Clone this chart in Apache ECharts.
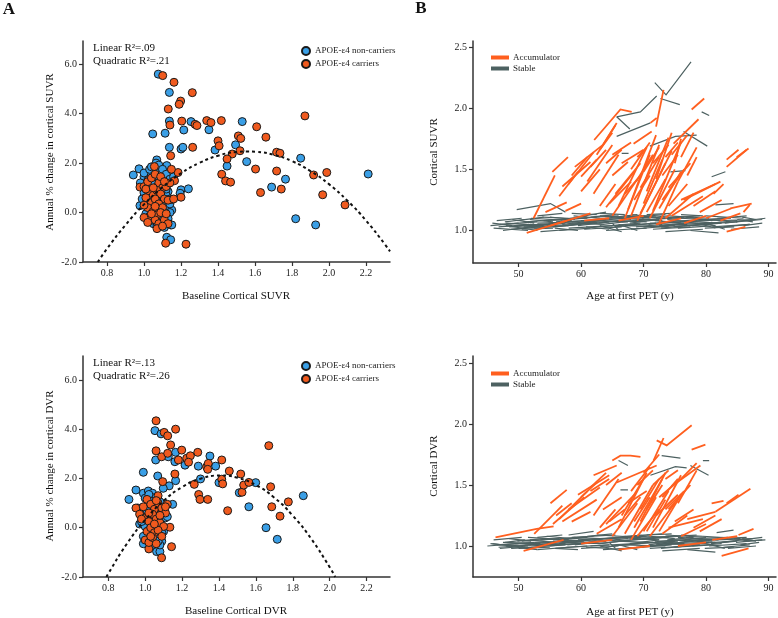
<!DOCTYPE html>
<html><head><meta charset="utf-8">
<script src="https://cdn.jsdelivr.net/npm/echarts@6/dist/echarts.min.js"></script>
<style>html,body{margin:0;padding:0;background:#fff}#c{width:778px;height:618px}</style>
</head><body><div id="c"></div>
<script>
// ---------- Panel A data ----------
const scatterXTicks = [0.8, 1.0, 1.2, 1.4, 1.6, 1.8, 2.0, 2.2];
const scatterYTicks = [-2, 0, 2, 4, 6];
const ageTicks = [50, 60, 70, 80, 90];
const ratioTicks = [1.0, 1.5, 2.0, 2.5];

const suvrNonCarriers = [
 [1.077,5.60],[1.137,4.86],[1.137,3.70],[1.254,3.68],[1.215,3.34],[1.047,3.18],[1.114,3.21],[1.351,3.35],[1.531,3.68],
 [1.137,2.64],[1.20,2.57],[1.21,2.64],[1.384,2.53],[1.495,2.74],[1.449,1.88],[1.555,2.06],[1.69,1.03],[1.765,1.35],
 [1.847,2.20],[2.212,1.56],[1.82,-0.25],[1.928,-0.50],[0.942,1.52],[0.973,1.77],[0.978,0.28],[1.123,1.90],[1.20,0.92],
 [1.24,0.96],[1.195,0.78],[1.144,-0.50],[1.123,-1.0],[1.144,-1.1],[1.069,2.13],[1.065,2.0],
 [1.00,1.45],[1.02,1.30],[1.04,1.55],[1.06,1.70],[1.08,1.40],[1.10,1.25],[1.01,1.10],[1.03,0.95],[1.05,1.15],[1.07,1.05],
 [1.09,0.90],[1.11,1.10],[1.13,0.85],[1.00,0.80],[1.02,0.65],[1.04,0.50],[1.06,0.75],[1.08,0.60],[1.10,0.45],[1.12,0.70],
 [1.14,0.55],[1.01,0.35],[1.03,0.20],[1.05,0.10],[1.07,0.30],[1.09,0.15],[1.11,0.05],[1.13,0.25],[1.15,0.10],[1.02,-0.10],
 [1.04,-0.25],[1.06,-0.05],[1.08,-0.30],[1.10,-0.15],[1.12,-0.40],[1.14,0.00],[1.05,-0.45],[1.07,-0.55],[1.09,-0.50],
 [1.11,-0.60],[1.15,-0.50],[1.03,-0.35],[0.99,0.55],[0.98,1.20],[1.00,1.60],[1.03,1.75],[1.08,1.92],[1.10,1.75],[1.12,1.55],
 [1.14,1.35],[1.16,1.45],[1.13,-0.25],[1.06,0.95],[1.04,1.85],[1.12,0.95],[1.14,0.35],[1.01,-0.05]
];
const suvrCarriers = [
 [1.101,5.54],[1.162,5.27],[1.261,4.85],[1.198,4.51],[1.19,4.38],[1.131,4.19],[1.14,3.54],[1.204,3.70],[1.276,3.57],
 [1.286,3.52],[1.339,3.72],[1.362,3.64],[1.418,3.72],[1.609,3.47],[1.659,3.05],[1.87,3.91],[1.51,3.10],[1.523,3.0],
 [1.40,2.9],[1.406,2.70],[1.263,2.64],[1.144,2.30],[1.184,1.62],[1.148,1.75],[1.165,1.29],[1.13,1.17],[1.2,0.62],[1.15,0.53],
 [1.117,-1.24],[1.227,-1.28],[1.477,2.37],[1.519,2.50],[1.449,2.17],[1.42,1.55],[1.441,1.28],[1.468,1.23],[1.603,1.76],
 [1.63,0.81],[1.717,1.68],[1.742,0.95],[1.717,2.44],[1.735,2.40],[1.917,1.52],[1.988,1.62],[1.966,0.72],[2.087,0.31],
 [0.978,1.03],[1.056,1.86],
 [1.00,1.05],[1.02,1.25],[1.04,1.40],[1.06,1.55],[1.08,1.20],[1.10,1.00],[1.03,0.85],[1.05,0.70],[1.07,0.90],[1.09,0.75],
 [1.11,0.55],[1.01,0.60],[1.04,0.40],[1.06,0.55],[1.08,0.35],[1.10,0.20],[1.02,0.20],[1.05,0.05],[1.07,-0.10],[1.09,0.00],
 [1.03,-0.15],[1.06,-0.30],[1.08,-0.45],[1.11,-0.30],[1.13,-0.45],[1.00,-0.20],[1.04,-0.05],[1.07,-0.65],[1.12,1.05],
 [1.14,1.20],[1.13,0.50],[1.16,0.55],[1.01,0.95],[1.05,1.00],[1.09,1.45],[1.02,-0.40],[1.06,0.25],[1.10,-0.55],[1.00,0.30],
 [1.11,1.25],[1.12,-0.05]
];
const dvrNonCarriers = [
 [0.912,1.15],[0.99,2.25],[0.95,1.53],[0.99,1.40],[1.017,1.49],[1.04,1.40],[1.053,3.94],[1.086,3.81],[1.057,2.75],
 [1.125,2.88],[1.165,3.06],[1.161,2.68],[1.068,2.10],[1.13,1.70],[1.098,1.60],[1.149,0.95],[1.116,0.45],[1.165,1.91],
 [1.288,2.50],[1.351,2.91],[1.382,2.50],[1.30,1.98],[1.40,1.83],[1.51,1.42],[1.562,0.85],[1.599,1.83],[1.655,0.0],
 [1.716,-0.47],[1.857,1.30],[1.062,-0.97],[1.08,-0.97],[1.216,2.54],
 [0.96,0.80],[0.98,0.60],[1.00,1.20],[1.02,1.00],[1.04,1.10],[1.06,0.90],[1.08,1.05],[1.10,0.75],[0.99,0.45],[1.01,0.30],
 [1.03,0.65],[1.05,0.50],[1.07,0.35],[1.09,0.55],[1.11,0.40],[0.97,0.15],[1.00,0.05],[1.02,-0.10],[1.04,0.15],[1.06,-0.05],
 [1.08,0.10],[1.10,-0.15],[1.12,0.45],[0.99,-0.35],[1.01,-0.50],[1.03,-0.25],[1.05,-0.40],[1.07,-0.30],[1.09,-0.55],
 [1.08,-0.70],[0.99,-0.65],[1.05,-0.60],[1.07,-0.55],[1.04,0.80],[1.02,1.35],[1.06,1.25],[1.09,-0.20],[1.01,0.70],
 [1.03,-0.75],[0.98,0.25]
];
const dvrCarriers = [
 [1.059,4.34],[1.103,3.87],[1.122,3.73],[1.165,4.0],[1.138,3.36],[1.059,3.12],[1.089,2.88],[1.122,3.02],[1.198,3.15],
 [1.18,2.75],[1.225,2.82],[1.245,2.92],[1.285,3.06],[1.235,2.66],[1.095,1.87],[1.161,2.18],[1.266,1.76],[1.29,1.35],
 [1.297,1.15],[1.339,1.15],[1.333,2.47],[1.342,2.61],[1.339,2.37],[1.415,2.75],[1.415,1.97],[1.42,1.78],[1.456,2.30],
 [1.447,0.69],[1.518,2.18],[1.525,1.44],[1.534,1.73],[1.562,1.84],[1.67,3.33],[1.68,1.66],[1.686,0.85],[1.731,0.47],
 [1.776,1.05],[1.134,0.02],[1.143,-0.77],[1.089,-1.22],[1.02,-0.86],
 [0.95,0.80],[0.97,0.55],[0.99,0.85],[1.01,1.15],[1.03,0.95],[1.05,0.75],[1.07,1.00],[1.09,0.80],[1.11,0.60],[1.00,0.40],
 [1.02,0.25],[1.04,0.55],[1.06,0.35],[1.08,0.20],[1.10,0.05],[0.98,0.35],[1.01,-0.15],[1.03,0.00],[1.05,-0.20],[1.07,-0.10],
 [1.09,-0.35],[1.00,-0.50],[1.02,-0.60],[1.04,-0.40],[1.06,-0.65],[1.03,-0.35],[1.07,1.30],[1.05,0.15],[1.02,0.60],
 [1.08,0.50],[1.12,0.95],[1.06,1.10],[1.11,0.85]
];
// quadratic fit curves
const suvrFitCurve = [[0.75,-2.0],[0.8,-1.46],[0.9,-0.50],[1.0,0.33],[1.1,1.03],[1.2,1.59],[1.3,2.01],[1.4,2.30],[1.5,2.45],
 [1.56,2.47],[1.6,2.46],[1.7,2.34],[1.8,2.08],[1.9,1.68],[2.0,1.15],[2.1,0.48],[2.2,-0.32],[2.3,-1.26],[2.33,-1.57]];
const dvrFitCurve = [[0.79,-2.0],[0.8,-1.86],[0.9,-0.66],[1.0,0.32],[1.1,1.09],[1.2,1.65],[1.3,1.99],[1.41,2.12],[1.5,2.03],
 [1.6,1.73],[1.7,1.22],[1.8,0.49],[1.9,-0.45],[2.0,-1.60],[2.03,-2.0]];

// ---------- Panel B data: each row = one subject, [age, value, age, value, ...] ----------
const suvrAccumulator = [
 [51.3,0.98,57.7,1.08],[55.1,1.04,61.5,1.14],[52.4,1.10,55.8,1.45],[54.3,1.15,57.7,1.23],[55.4,1.48,57.9,1.60],
 [56.5,1.28,59.5,1.48],[57.0,1.36,61.5,1.56],[58.0,1.38,62.0,1.64],[58.5,1.45,61.0,1.60],[59.0,1.52,63.5,1.70],
 [60.0,1.32,63.0,1.50],[61.0,1.40,65.0,1.70],[62.1,1.74,66.3,1.99,68.1,1.97],[62.5,1.62,65.5,1.86],[63.0,1.66,65.0,1.80],
 [63.5,1.70,65.7,1.88],[64.0,1.19,68.5,1.48],[64.5,1.22,68.0,1.40],[65.0,1.45,67.5,1.56],[65.5,1.30,69.5,1.55],
 [66.5,1.55,70.0,1.66],[67.0,1.10,71.0,1.62],[67.5,1.17,72.0,1.78],[68.0,1.12,72.5,1.70],[68.4,1.71,71.3,1.81],
 [68.8,1.40,71.5,1.62],[69.0,1.08,73.5,1.55],[69.5,1.14,74.5,1.65],[70.0,1.22,73.0,1.58],[70.5,1.32,74.0,1.76],
 [70.0,1.48,72.5,1.68],[71.1,1.88,72.1,1.92],[72.0,1.85,73.2,2.15],[71.0,1.10,75.0,1.50],[71.5,1.16,76.0,1.72],
 [72.0,1.42,74.5,1.80],[72.5,1.06,75.5,1.40],[73.0,1.25,76.5,1.50],[73.5,1.60,75.5,1.72],[73.5,1.10,78.0,1.30],
 [74.0,1.20,77.0,1.38],[74.8,1.71,78.8,1.91],[75.0,1.55,76.0,1.75],[74.5,1.12,79.5,1.28],[76.0,1.25,81.5,1.38],
 [76.4,1.25,82.3,1.40],[77.0,1.45,78.5,1.60],[77.7,1.99,79.7,2.08],[81.2,1.30,82.8,1.38],[83.3,1.52,86.5,1.66],
 [83.3,1.58,85.2,1.66],[84.9,1.60,86.8,1.67],[83.9,1.18,87.3,1.22],[83.3,0.99,86.3,1.03],[82.3,1.08,85.5,1.14],
 [66.0,1.08,70.0,1.12],[72.0,1.05,76.0,1.10],[76.5,1.06,80.0,1.12],[60.5,1.08,64.5,1.10],[65.0,1.62,68.0,1.72],
 [69.0,1.60,70.5,1.68],[57.5,1.16,60.0,1.22],
 [60.0,1.44,62.5,1.58],[61.5,1.52,64.0,1.66],[62.0,1.30,66.0,1.62],[63.0,1.20,65.5,1.38],[64.0,1.55,66.5,1.66],
 [65.0,1.12,69.0,1.42],[66.0,1.20,70.5,1.68],[67.0,1.30,69.5,1.45],[68.0,1.50,71.0,1.72],[69.5,1.35,72.5,1.60],
 [70.5,1.15,73.5,1.42],[71.5,1.55,74.0,1.70],[72.5,1.18,76.0,1.48],[73.0,1.45,75.5,1.62],[74.0,1.35,77.5,1.55],
 [75.5,1.40,78.5,1.68],[76.0,1.60,78.0,1.80],[78.0,1.20,81.5,1.32],[79.0,1.15,82.5,1.25],[80.0,1.10,84.0,1.18],
 [86.0,1.15,87.0,1.21],[68.5,1.25,71.0,1.45],[74.5,1.62,77.0,1.78]
];
const suvrStable = [
 [71.8,2.21,73.6,2.11,77.6,2.38],[65.7,1.93,69.5,1.97,72.1,2.10],[65.7,1.93,67.8,1.83],[65.7,1.77,71.1,1.88],
 [72.7,2.08,75.8,2.03],[79.3,1.97,80.5,1.94],[71.0,1.69,75.1,1.77,78.5,1.78],[76.4,1.81,80.2,1.69],[66.5,1.63,67.6,1.63],
 [80.9,1.44,83.1,1.48],[81.5,1.21,84.4,1.22],[74.3,1.48,76.7,1.49],[49.7,1.17,55.1,1.22,57.5,1.15],
 [45.5,1.04,50.0,1.06],[46.0,1.02,51.5,1.00],[46.5,1.08,50.5,1.10],[47.0,1.05,53.0,1.07],[47.5,1.00,52.0,1.03],
 [48.0,1.06,54.0,1.04],[48.5,1.03,55.0,1.05,57.0,1.08],[49.0,1.09,52.5,1.06],[50.0,1.04,56.5,1.06],[50.5,1.01,55.5,1.02],
 [51.0,1.07,57.0,1.09],[51.5,1.05,54.5,1.03],[52.0,1.10,58.5,1.08],[52.5,1.02,58.0,1.04],[53.0,1.06,59.5,1.07],
 [53.5,0.99,58.5,1.01],[54.0,1.08,61.0,1.10],[54.5,1.04,60.0,1.05],[55.0,1.11,59.0,1.09],[55.5,1.03,62.0,1.06],
 [56.0,1.07,63.0,1.08],[56.5,1.00,61.5,1.02],[57.0,1.05,64.0,1.09],[57.5,1.09,62.5,1.11],[58.0,1.02,65.0,1.04],
 [58.5,1.06,63.5,1.05],[59.0,1.10,66.0,1.12],[59.5,1.04,64.5,1.07],[60.0,1.08,67.0,1.10],[60.5,1.01,66.5,1.03],
 [61.0,1.06,68.0,1.09],[61.5,1.11,65.5,1.13],[62.0,1.03,69.0,1.05],[62.5,1.08,67.5,1.07],[63.0,1.12,70.0,1.10],
 [63.5,1.05,68.5,1.08],[64.0,1.00,70.5,1.02],[64.5,1.09,71.0,1.11],[65.0,1.06,66.0,1.00],[65.5,1.03,72.0,1.06],
 [66.0,1.10,73.0,1.08],[66.5,1.07,71.5,1.09],[67.0,1.04,74.0,1.03],[67.5,1.11,73.5,1.13],[68.0,1.01,75.0,1.04],
 [68.5,1.08,74.5,1.10],[69.0,1.05,76.0,1.07],[69.5,1.12,75.5,1.09],[70.0,1.03,77.0,1.05],[70.5,1.09,76.5,1.11],
 [71.0,1.06,78.0,1.04],[71.5,1.01,77.5,1.03],[72.0,1.10,79.0,1.12],[72.5,1.04,78.5,1.07],[73.0,1.07,80.0,1.09],
 [73.5,0.99,79.5,1.01],[74.0,1.12,80.5,1.10],[74.5,1.05,81.0,1.06],[75.0,1.08,82.0,1.06],[75.5,1.02,81.5,1.04],
 [76.0,1.10,82.5,1.08],[76.5,1.04,80.5,1.05],[77.0,1.07,83.0,1.09],[77.5,1.00,82.0,0.98],[78.0,1.09,84.0,1.10],
 [79.0,1.05,85.0,1.07],[80.0,1.12,86.0,1.10],[81.0,1.03,87.0,1.05],[82.0,1.08,88.0,1.09],[83.0,1.06,89.5,1.10],
 [84.0,1.01,88.5,1.03],[85.0,1.09,87.5,1.07],[86.0,1.04,89.0,1.06],[60.5,1.12,64.0,1.15],[63.0,1.14,67.0,1.13],
 [45.8,1.06,49.0,1.04],[46.8,1.03,52.0,1.05],[47.8,1.07,51.0,1.09],[48.8,1.01,53.5,1.03],[49.8,1.08,54.0,1.11],
 [50.8,1.03,56.0,1.04],[51.8,1.09,55.5,1.07],[52.8,1.04,57.5,1.06],[53.8,1.11,58.0,1.10],[54.8,1.06,60.5,1.08],
 [55.8,1.02,59.5,1.00],[56.8,1.09,61.0,1.12],[57.8,1.04,62.0,1.07],[58.8,1.12,63.0,1.10],[59.8,1.06,65.0,1.09],
 [60.8,1.03,64.5,1.01],[61.8,1.09,67.0,1.11],[62.8,1.06,66.5,1.08],[63.8,1.10,69.0,1.13],[64.8,1.04,69.5,1.06],
 [65.8,1.08,70.5,1.07],[66.8,1.12,71.0,1.10],[67.8,1.06,72.5,1.09],[68.8,1.03,73.0,1.05],[69.8,1.10,74.0,1.12],
 [70.8,1.05,75.0,1.08],[71.8,1.08,76.5,1.06],[72.8,1.02,77.0,1.04],[73.8,1.09,78.0,1.11],[74.8,1.03,79.0,1.05],
 [75.8,1.07,80.0,1.09],[76.8,1.11,81.0,1.08],[77.8,1.04,82.5,1.06],[78.8,1.08,83.5,1.10],[79.8,1.02,84.5,1.03],
 [80.8,1.06,85.0,1.08],[81.8,1.10,86.5,1.12],[82.8,1.03,87.0,1.05],[84.8,1.07,89.0,1.09],[85.8,1.11,88.0,1.09],
 [63.0,1.04,66.5,0.99],[68.0,1.13,72.0,1.11],[53.0,1.12,57.0,1.14],[58.5,1.14,62.5,1.13],[70.5,1.13,74.5,1.14],
 [76.0,1.13,79.5,1.12],[78.5,1.06,81.5,1.02],[48.0,1.04,53.0,1.00],[66.0,1.05,69.0,1.00],[80.0,1.06,83.0,1.01]
];
const dvrAccumulator = [
 [46.3,1.07,52.9,1.14,55.6,1.16],[50.8,0.96,57.2,1.05],[52.5,1.10,57.0,1.33],[55.1,1.35,57.7,1.46],[55.5,1.18,60.5,1.40],
 [56.5,1.22,61.0,1.45],[57.0,1.20,62.5,1.38],[58.0,1.30,63.0,1.48],[59.5,1.42,64.5,1.58],[62.0,1.58,65.7,1.66],
 [61.5,1.45,64.5,1.55],[63.5,1.30,66.5,1.40],[64.0,1.18,68.5,1.42],[64.5,1.20,67.0,1.30],[65.7,1.52,72.1,1.66],
 [65.0,1.70,66.3,1.74,67.9,1.74,69.5,1.73],[66.5,1.25,70.0,1.55],[67.0,1.10,71.5,1.50],[67.5,1.35,70.5,1.45],
 [68.0,1.05,72.0,1.40],[68.5,1.15,73.0,1.55],[69.0,1.08,72.5,1.30],[69.5,1.20,73.5,1.60],[70.0,1.12,74.0,1.45],
 [70.5,1.30,73.0,1.50],[71.0,1.08,75.0,1.35],[71.5,1.15,76.0,1.58],[71.6,1.70,73.2,1.885],[72.1,1.866,73.7,1.825,77.7,1.99],
 [72.0,1.25,75.5,1.42],[72.5,1.40,76.0,1.55],[73.0,1.10,77.0,1.25],[73.5,1.30,76.5,1.45],[74.5,1.49,79.1,1.66],
 [74.0,1.15,79.5,1.22],[75.0,1.20,78.0,1.30],[76.0,1.08,80.0,1.18],[77.7,1.79,79.9,1.83],[77.0,1.22,81.5,1.28],
 [80.9,1.35,82.8,1.37],[81.5,1.28,87.1,1.47],[83.3,1.35,85.2,1.42],[82.5,0.92,86.8,0.98],[85.2,1.09,87.6,1.14],
 [81.0,1.05,85.0,1.08],[60.0,1.02,65.0,1.05],[66.0,0.97,71.0,1.00],[75.5,1.00,80.0,1.03],[62.5,1.10,66.5,1.22],
 [58.5,1.20,61.5,1.28],[70.0,1.60,72.5,1.75],[69.0,1.50,71.5,1.62],[73.5,1.55,75.5,1.62],
 [60.0,1.40,62.5,1.52],[61.5,1.48,64.0,1.60],[62.0,1.25,66.0,1.55],[63.0,1.15,65.5,1.30],[64.0,1.50,66.5,1.60],
 [65.0,1.08,69.0,1.35],[66.0,1.15,70.5,1.60],[67.0,1.25,69.5,1.40],[68.0,1.45,71.0,1.65],[69.5,1.30,72.5,1.55],
 [70.5,1.12,73.5,1.38],[71.5,1.50,74.0,1.62],[72.5,1.12,76.0,1.42],[73.0,1.40,75.5,1.55],[74.0,1.30,77.5,1.50],
 [75.5,1.35,78.5,1.62],[76.0,1.55,78.5,1.68],[78.0,1.15,81.5,1.25],[79.0,1.12,82.5,1.22],[68.5,1.20,71.0,1.40],
 [56.0,1.25,58.5,1.35]
];
const dvrStable = [
 [72.9,1.74,75.9,1.72],[71.1,1.58,75.1,1.65,76.9,1.64],[77.5,1.66,80.4,1.58],[66.3,1.46,67.5,1.46],[79.5,1.70,80.5,1.70],
 [66.0,1.70,67.5,1.66],[81.7,1.11,84.4,1.13],
 [45.0,1.00,50.0,1.02],[45.5,1.02,51.0,0.99],[46.0,1.05,50.5,1.07],[46.5,1.01,52.5,1.03],[47.0,0.98,51.5,1.00],
 [47.5,1.03,53.5,1.02],[48.0,1.00,54.5,1.02,56.5,1.04],[48.5,1.06,52.0,1.04],[49.5,1.02,56.0,1.03],[50.0,0.98,55.0,0.99],
 [50.5,1.04,56.5,1.06],[51.0,1.02,54.0,1.01],[51.5,1.07,58.0,1.05],[52.0,0.99,57.5,1.01],[52.5,1.03,59.0,1.04],
 [53.0,0.97,58.0,0.99],[53.5,1.05,60.5,1.07],[54.0,1.01,59.5,1.02],[54.5,1.08,58.5,1.06],[55.0,1.00,61.5,1.03],
 [55.5,1.04,62.5,1.05],[56.0,0.98,61.0,1.00],[56.5,1.02,63.5,1.06],[57.0,1.06,62.0,1.08],[57.5,0.99,64.5,1.01],
 [58.0,1.03,63.0,1.02],[58.5,1.07,65.5,1.09],[59.0,1.01,64.0,1.04],[59.5,1.05,66.5,1.07],[60.0,0.98,66.0,1.00],
 [60.5,1.03,67.5,1.06],[61.0,1.08,65.0,1.10],[61.5,1.00,68.5,1.02],[62.0,1.05,67.0,1.04],[62.5,1.09,69.5,1.07],
 [63.0,1.02,68.0,1.05],[63.5,0.97,70.0,0.99],[64.0,1.06,70.5,1.08],[64.5,1.03,65.5,0.98],[65.0,1.00,71.5,1.03],
 [65.5,1.07,72.5,1.05],[66.0,1.04,71.0,1.06],[66.5,1.01,73.5,1.00],[67.0,1.08,73.0,1.10],[67.5,0.98,74.5,1.01],
 [68.0,1.05,74.0,1.07],[68.5,1.02,75.5,1.04],[69.0,1.09,75.0,1.06],[69.5,1.00,76.5,1.02],[70.0,1.06,76.0,1.08],
 [70.5,1.03,77.5,1.01],[71.0,0.98,77.0,1.00],[71.5,1.07,78.5,1.09],[72.0,1.01,78.0,1.04],[72.5,1.04,79.5,1.06],
 [73.0,0.96,79.0,0.98],[73.5,1.09,80.0,1.07],[74.0,1.02,80.5,1.03],[74.5,1.05,81.5,1.03],[75.0,0.99,81.0,1.01],
 [75.5,1.07,82.0,1.05],[76.0,1.01,80.0,1.02],[76.5,1.04,82.5,1.06],[77.0,0.97,81.5,0.95],[77.5,1.06,83.5,1.07],
 [78.5,1.02,84.5,1.04],[79.5,1.08,85.5,1.06],[80.5,1.00,86.5,1.02],[81.5,1.05,87.5,1.06],[82.5,1.03,89.0,1.07],
 [83.5,0.98,88.0,1.00],[84.5,1.06,87.0,1.04],[85.5,1.01,88.5,1.03],[86.0,1.04,89.5,1.05],[58.0,1.09,62.0,1.12],
 [45.8,1.02,49.0,1.00],[46.8,0.99,52.0,1.01],[47.8,1.03,51.0,1.05],[48.8,0.98,53.5,0.99],[49.8,1.04,54.0,1.06],
 [50.8,1.00,56.0,1.01],[51.8,1.05,55.5,1.03],[52.8,1.01,57.5,1.02],[53.8,1.06,58.0,1.05],[54.8,1.02,60.5,1.04],
 [55.8,0.98,59.5,0.97],[56.8,1.05,61.0,1.07],[57.8,1.01,62.0,1.03],[58.8,1.07,63.0,1.06],[59.8,1.02,65.0,1.05],
 [60.8,0.99,64.5,0.98],[61.8,1.05,67.0,1.07],[62.8,1.02,66.5,1.04],[63.8,1.06,69.0,1.08],[64.8,1.00,69.5,1.02],
 [65.8,1.04,70.5,1.03],[66.8,1.08,71.0,1.06],[67.8,1.02,72.5,1.05],[68.8,0.99,73.0,1.01],[69.8,1.06,74.0,1.08],
 [70.8,1.01,75.0,1.04],[71.8,1.04,76.5,1.02],[72.8,0.98,77.0,1.00],[73.8,1.05,78.0,1.07],[74.8,0.99,79.0,1.01],
 [75.8,1.03,80.0,1.05],[76.8,1.07,81.0,1.04],[77.8,1.00,82.5,1.02],[78.8,1.04,83.5,1.06],[79.8,0.98,84.5,0.99],
 [80.8,1.02,85.0,1.04],[81.8,1.06,86.5,1.07],[82.8,0.99,87.0,1.01],[84.8,1.03,89.0,1.05],[85.8,1.06,88.0,1.04],
 [63.0,1.00,66.5,0.96],[68.0,1.08,72.0,1.07],[53.0,1.07,57.0,1.09],[70.5,1.09,74.5,1.10],[76.0,1.09,79.5,1.08],
 [48.0,1.00,53.0,0.97],[66.0,1.01,69.0,0.97],[80.0,1.02,83.0,0.98]
];

// ---------- chart ----------
const FONT = '"Liberation Serif","DejaVu Serif",serif';
const BLUE = '#3a9fe6', RED = '#f05a1e', ORANGE = '#ff5f1f', GRAY = '#4d6161', AX = '#333';

function axis(gridIndex, min, max, ticks, digits) {
  return {
    type: 'value', gridIndex, min, max,
    axisLine: { show: true, onZero: false, lineStyle: { color: AX, width: 1.5 } },
    axisTick: { show: true, customValues: ticks, length: 4, lineStyle: { color: AX, width: 1.2 } },
    axisLabel: { customValues: ticks, formatter: v => Number(v).toFixed(digits), color: '#222', fontFamily: FONT, fontSize: 10, margin: 6 },
    splitLine: { show: false }
  };
}
const pairs = arr => { const out = []; for (let i = 0; i < arr.length; i += 2) out.push([arr[i], arr[i + 1]]); return out; };
function scatter(name, data, color, g) {
  return { type: 'scatter', name, data, xAxisIndex: g, yAxisIndex: g, symbolSize: 8,
    itemStyle: { color, borderColor: '#1a1a1a', borderWidth: 1, opacity: 1 }, z: 3 };
}
function fit(data, g) {
  return { type: 'line', data, xAxisIndex: g, yAxisIndex: g, smooth: true, showSymbol: false, silent: true,
    lineStyle: { color: '#111', width: 2, type: [3, 3] }, z: 4 };
}
function traj(name, rows, color, width, g, z) {
  return { type: 'lines', name, coordinateSystem: 'cartesian2d', xAxisIndex: g, yAxisIndex: g, polyline: true,
    data: rows.map(r => ({ coords: pairs(r) })), lineStyle: { color, width, opacity: 1 }, itemStyle: { color }, z };
}
function txt(x, y, text, size, opts) {
  return Object.assign({ type: 'text', x, y, style: Object.assign({ text, fontFamily: FONT, fontSize: size, fill: '#111',
    align: 'center', verticalAlign: 'middle' }, (opts && opts.style) || {}) }, opts && opts.rotation ? { rotation: opts.rotation } : {});
}

const chart = echarts.init(document.getElementById('c'), null, { renderer: 'canvas' });
chart.setOption({
  backgroundColor: '#fff',
  animation: false,
  grid: [
    { left: 83, top: 41, width: 307, height: 221 },
    { left: 83, top: 356, width: 307, height: 221 },
    { left: 473, top: 41, width: 303, height: 222 },
    { left: 473, top: 356, width: 303, height: 221 }
  ],
  xAxis: [
    axis(0, 0.67, 2.33, scatterXTicks, 1),
    axis(1, 0.663, 2.327, scatterXTicks, 1),
    axis(2, 42.7, 91.2, ageTicks, 0),
    axis(3, 42.7, 91.2, ageTicks, 0)
  ],
  yAxis: [
    axis(0, -2, 6.94, scatterYTicks, 1),
    axis(1, -2, 6.97, scatterYTicks, 1),
    axis(2, 0.734, 2.55, ratioTicks, 1),
    axis(3, 0.746, 2.557, ratioTicks, 1)
  ],
  legend: [
    { orient: 'vertical', left: 296, top: 41, itemWidth: 8, itemHeight: 8, itemGap: 3, itemTextGap: 3,
      data: [{ name: 'APOE-ε4 non-carriers', icon: 'circle' }, { name: 'APOE-ε4 carriers', icon: 'circle' }],
      textStyle: { fontFamily: FONT, fontSize: 9, color: '#222' }, selectedMode: false },
    { orient: 'vertical', left: 296, top: 356, itemWidth: 8, itemHeight: 8, itemGap: 3, itemTextGap: 3,
      data: [{ name: 'APOE-ε4 non-carriers', icon: 'circle' }, { name: 'APOE-ε4 carriers', icon: 'circle' }],
      textStyle: { fontFamily: FONT, fontSize: 9, color: '#222' }, selectedMode: false },
    { orient: 'vertical', left: 486, top: 48, itemWidth: 16, itemHeight: 2, itemGap: 2, itemTextGap: 5,
      data: [{ name: 'Accumulator', icon: 'rect' }, { name: 'Stable', icon: 'rect' }],
      textStyle: { fontFamily: FONT, fontSize: 9, color: '#222' }, selectedMode: false },
    { orient: 'vertical', left: 486, top: 364, itemWidth: 16, itemHeight: 2, itemGap: 2, itemTextGap: 5,
      data: [{ name: 'Accumulator', icon: 'rect' }, { name: 'Stable', icon: 'rect' }],
      textStyle: { fontFamily: FONT, fontSize: 9, color: '#222' }, selectedMode: false }
  ],
  series: [
    scatter('APOE-ε4 non-carriers', suvrNonCarriers, BLUE, 0),
    scatter('APOE-ε4 carriers', suvrCarriers, RED, 0),
    fit(suvrFitCurve, 0),
    scatter('APOE-ε4 non-carriers', dvrNonCarriers, BLUE, 1),
    scatter('APOE-ε4 carriers', dvrCarriers, RED, 1),
    fit(dvrFitCurve, 1),
    traj('Stable', suvrStable, GRAY, 1.2, 2, 2),
    traj('Accumulator', suvrAccumulator, ORANGE, 1.8, 2, 3),
    traj('Stable', dvrStable, GRAY, 1.2, 3, 2),
    traj('Accumulator', dvrAccumulator, ORANGE, 1.8, 3, 3)
  ],
  graphic: [
    txt(9, 10, 'A', 17, { style: { fontWeight: 'bold' } }),
    txt(421, 9, 'B', 17, { style: { fontWeight: 'bold' } }),
    txt(93, 48, 'Linear R²=.09', 11, { style: { align: 'left' } }),
    txt(93, 61.5, 'Quadratic R²=.21', 11, { style: { align: 'left' } }),
    txt(93, 363, 'Linear R²=.13', 11, { style: { align: 'left' } }),
    txt(93, 376.5, 'Quadratic R²=.26', 11, { style: { align: 'left' } }),
    txt(236, 296, 'Baseline Cortical SUVR', 11),
    txt(236, 611, 'Baseline Cortical DVR', 11),
    txt(630, 296.5, 'Age at first PET (y)', 11),
    txt(630, 612, 'Age at first PET (y)', 11),
    txt(50, 152, 'Annual % change in cortical SUVR', 11, { rotation: Math.PI / 2 }),
    txt(50, 466, 'Annual % change in cortical DVR', 11, { rotation: Math.PI / 2 }),
    txt(434, 152, 'Cortical SUVR', 11, { rotation: Math.PI / 2 }),
    txt(434, 466, 'Cortical DVR', 11, { rotation: Math.PI / 2 })
  ]
});
</script></body></html>
